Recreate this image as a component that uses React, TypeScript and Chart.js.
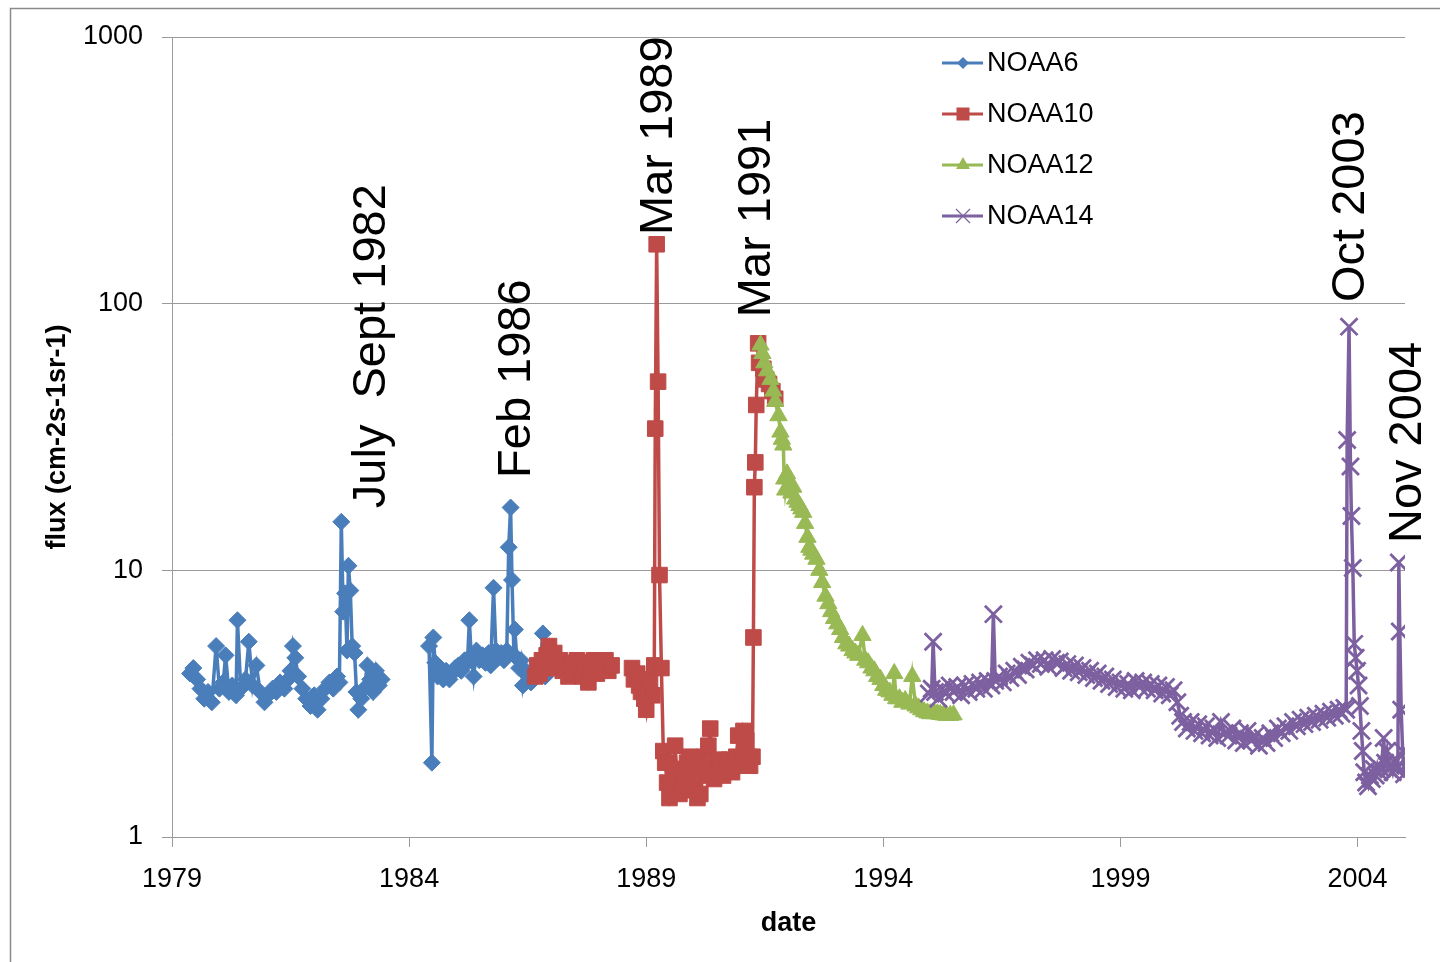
import React, { useEffect, useRef } from "react";
import { Chart, registerables } from "chart.js";

Chart.register(...registerables);

const FONT = "'Liberation Sans', Arial, Helvetica, sans-serif";
const GRID = "#9a9a9a";

// Axis ticks
const xTickYears = [1979, 1984, 1989, 1994, 1999, 2004];
const yTickValues = [1, 10, 100, 1000];

// Series names and colours
const seriesNames = ["NOAA6", "NOAA10", "NOAA12", "NOAA14"];
const seriesColors = ["#4A7EBB", "#BE4B48", "#98B954", "#7D60A0"];

// NOAA6 (null = data gap)
const noaa6Year = [
  1979.38, 1979.45, 1979.53, 1979.6, 1979.68, 1979.76, 1979.84, 1979.93,
  1980.0, 1980.08, 1980.13, 1980.2, 1980.27, 1980.35, 1980.38, 1980.45, 1980.55, 1980.62, 1980.7, 1980.78, 1980.86, 1980.95,
  1981.03, 1981.12, 1981.2, 1981.28, 1981.37, 1981.45, 1981.5, 1981.55, 1981.6, 1981.66, 1981.75, 1981.83, 1981.92,
  1982.0, 1982.07, 1982.15, 1982.23, 1982.32, 1982.4, 1982.48, 1982.53, 1982.57, 1982.61, 1982.65, 1982.69, 1982.72, 1982.76, 1982.8, 1982.85, 1982.89, 1982.93, 1982.99,
  1983.05, 1983.12, 1983.18, 1983.24, 1983.3, 1983.36, 1983.42,
  1984.0,
  1984.42, 1984.48, 1984.51, 1984.55, 1984.6, 1984.66, 1984.72, 1984.78, 1984.85, 1984.91, 1984.97,
  1985.04, 1985.1, 1985.17, 1985.23, 1985.27, 1985.31, 1985.36, 1985.42, 1985.48, 1985.55, 1985.61, 1985.68, 1985.72, 1985.78, 1985.83, 1985.88, 1985.94,
  1986.0, 1986.06, 1986.1, 1986.14, 1986.17, 1986.21, 1986.23, 1986.27, 1986.32, 1986.36, 1986.4, 1986.46, 1986.51, 1986.57, 1986.63, 1986.7, 1986.76, 1986.82, 1986.87,
];
const noaa6Flux = [
  4.1, 4.3, 3.9, 3.6, 3.3, 3.5, 3.2, 5.2,
  3.6, 3.8, 4.8, 3.5, 3.7, 3.4, 6.5, 3.6, 3.9, 5.4, 3.7, 4.4, 3.5, 3.2,
  3.4, 3.6, 3.5, 3.8, 3.6, 3.9, 4.2, 5.2, 4.7, 4.0, 3.6, 3.3, 3.1,
  3.4, 3.0, 3.3, 3.6, 3.8, 3.6, 4.0, 3.8, 15.2, 7.0, 8.2, 5.0, 10.4, 8.4, 5.2, 4.9, 3.5, 3.0, 3.3,
  3.6, 4.4, 3.9, 3.5, 4.2, 3.7, 3.9,
  null,
  5.2, 1.9, 5.6, 4.5, 4.0, 4.3, 3.9, 4.2, 3.9, 4.1, 4.3,
  4.4, 4.2, 4.6, 4.5, 6.5, 4.8, 4.0, 5.0, 4.6, 4.8, 4.5, 4.9, 4.4, 8.6, 5.0, 4.7, 4.9,
  4.6, 5.0, 12.2, 17.2, 9.2, 4.8, 6.0, 4.7, 4.3, 4.6, 3.7, 4.2, 4.0, 3.8, 3.9, 4.1, 4.4, 5.8, 4.0,
];

// NOAA10
const noaa10Year = [
  1986.66, 1986.7, 1986.75, 1986.8, 1986.85, 1986.9, 1986.95, 1987.0, 1987.06, 1987.12, 1987.18, 1987.24, 1987.3, 1987.36, 1987.42,
  1987.48, 1987.54, 1987.6, 1987.66, 1987.72, 1987.78, 1987.84, 1987.9, 1987.96, 1988.02, 1988.08, 1988.14, 1988.2, 1988.27,
  1988.5,
  1988.7, 1988.74, 1988.81, 1988.85, 1988.89, 1988.96, 1989.0, 1989.04, 1989.08, 1989.13, 1989.17, 1989.19, 1989.22, 1989.25, 1989.28, 1989.32, 1989.36,
  1989.4, 1989.44, 1989.49, 1989.53, 1989.57, 1989.61, 1989.65, 1989.7, 1989.74, 1989.78, 1989.82, 1989.86, 1989.91, 1989.95, 1989.99,
  1990.03, 1990.08, 1990.14, 1990.18, 1990.22, 1990.27, 1990.31, 1990.35, 1990.39, 1990.43, 1990.48, 1990.54, 1990.58, 1990.62, 1990.69, 1990.75, 1990.81, 1990.86, 1990.9, 1990.94,
  1991.0, 1991.05, 1991.11, 1991.15, 1991.19, 1991.24, 1991.26, 1991.28, 1991.3, 1991.32, 1991.36, 1991.38, 1991.47, 1991.53, 1991.59, 1991.66, 1991.72,
];
const noaa10Flux = [
  4.0, 4.4, 4.1, 4.6, 4.3, 4.8, 5.2, 4.5, 4.9, 4.3, 4.6, 4.2, 4.5, 4.0, 4.4,
  4.1, 4.6, 4.3, 4.0, 4.5, 3.8, 4.2, 4.6, 4.1, 4.5, 4.3, 4.6, 4.2, 4.4,
  null,
  4.3, 3.9, 4.1, 3.7, 3.5, 3.3, 3.0, 3.6, 3.9, 3.4, 4.4, 34, 167, 51, 9.6, 4.3, 2.1,
  1.9, 1.6, 1.4, 1.5, 1.8, 2.2, 1.7, 1.45, 1.5, 1.7, 1.55, 1.9, 2.0, 1.6, 1.8,
  1.5, 1.4, 1.45, 1.7, 2.0, 1.75, 2.2, 2.55, 1.9, 1.65, 1.75, 1.95, 1.8, 1.7, 1.85, 1.95, 1.75, 1.85, 2.0, 2.4,
  1.9, 2.5, 2.3, 2.0, 1.85, 2.0, 5.6, 20.5, 25.4, 41.7, 71, 60, 57, 52, 50, 47, 44,
];

// NOAA12
const noaa12Year = [
  1991.41, 1991.45, 1991.49, 1991.55, 1991.62, 1991.68, 1991.72, 1991.79, 1991.83, 1991.86, 1991.89, 1991.91, 1991.93, 1991.97,
  1992.02, 1992.06, 1992.1, 1992.14, 1992.19, 1992.23, 1992.27, 1992.31, 1992.35, 1992.4, 1992.44, 1992.48, 1992.52, 1992.59, 1992.65, 1992.71, 1992.78, 1992.84, 1992.9, 1992.96,
  1993.03, 1993.09, 1993.15, 1993.22, 1993.28, 1993.35, 1993.41, 1993.47, 1993.56, 1993.62, 1993.68, 1993.75, 1993.81, 1993.87, 1993.94,
  1994.0, 1994.06, 1994.13, 1994.19, 1994.23, 1994.27, 1994.34, 1994.4, 1994.46, 1994.55, 1994.61, 1994.68, 1994.74, 1994.8, 1994.86, 1994.93, 1994.99,
  1995.08, 1995.14, 1995.2, 1995.27, 1995.33, 1995.41, 1995.48,
];
const noaa12Flux = [
  70, 65, 60, 56, 52, 47, 43, 38, 33, 31, 29.5, 22, 20, 23,
  21, 19.5, 20.5, 18.5, 18.0, 17.5, 17.0, 16.5, 15, 13.3, 12.2, 11.9, 11.5, 11.0, 10.0, 9.0, 8.0, 7.5, 7.0, 6.6,
  6.3, 6.0, 5.6, 5.3, 5.2, 5.0, 4.9, 4.8, 5.7, 4.6, 4.5, 4.3, 4.2, 4.0, 3.9,
  3.7, 3.55, 3.5, 3.4, 4.1, 3.3, 3.3, 3.2, 3.25, 3.15, 4.0, 3.1, 3.05, 3.0, 2.95, 2.92, 2.9,
  2.9, 2.9, 2.88, 2.87, 2.86, 2.86, 2.87,
];

// NOAA14
const noaa14Year = [
  1994.96, 1995.02, 1995.05, 1995.09, 1995.16, 1995.24, 1995.32, 1995.4, 1995.48, 1995.56, 1995.64, 1995.72, 1995.8, 1995.88, 1995.96,
  1996.04, 1996.12, 1996.2, 1996.28, 1996.32, 1996.36, 1996.44, 1996.52, 1996.6, 1996.68, 1996.76, 1996.84, 1996.92,
  1997.0, 1997.08, 1997.16, 1997.24, 1997.32, 1997.4, 1997.48, 1997.56, 1997.64, 1997.72, 1997.8, 1997.88, 1997.96,
  1998.04, 1998.12, 1998.2, 1998.28, 1998.36, 1998.44, 1998.52, 1998.6, 1998.68, 1998.76, 1998.84, 1998.92,
  1999.0, 1999.08, 1999.16, 1999.24, 1999.32, 1999.4, 1999.48, 1999.56, 1999.64, 1999.72, 1999.8, 1999.88, 1999.96,
  2000.04, 2000.12, 2000.2, 2000.26, 2000.32, 2000.4, 2000.48, 2000.56, 2000.64, 2000.72, 2000.8, 2000.88, 2000.96,
  2001.04, 2001.12, 2001.2, 2001.28, 2001.36, 2001.44, 2001.52, 2001.6, 2001.68, 2001.76, 2001.84, 2001.92,
  2002.0, 2002.08, 2002.16, 2002.24, 2002.32, 2002.4, 2002.48, 2002.56, 2002.64, 2002.72, 2002.8, 2002.88, 2002.96,
  2003.04, 2003.12, 2003.2, 2003.28, 2003.36, 2003.44, 2003.52, 2003.6, 2003.66, 2003.72, 2003.76, 2003.78, 2003.82, 2003.85, 2003.87, 2003.9, 2003.93, 2003.96, 2003.99,
  2004.02, 2004.05, 2004.08, 2004.11, 2004.14, 2004.18, 2004.22, 2004.26, 2004.3, 2004.34, 2004.38, 2004.42, 2004.46, 2004.5, 2004.55, 2004.58,
  2004.62, 2004.66, 2004.7, 2004.74, 2004.78, 2004.82, 2004.85, 2004.87, 2004.89, 2004.92, 2004.95, 2004.98,
];
const noaa14Flux = [
  3.45, 3.6, 5.4, 3.5, 3.3, 3.6, 3.45, 3.7, 3.5, 3.65, 3.4, 3.7, 3.5, 3.75, 3.6,
  3.8, 3.6, 3.85, 3.7, 6.85, 3.85, 4.0, 3.8, 4.1, 3.95, 4.2, 4.05, 4.35,
  4.25, 4.5, 4.4, 4.6, 4.45, 4.6, 4.35, 4.65, 4.5, 4.55, 4.3, 4.45, 4.2,
  4.4, 4.15, 4.3, 4.05, 4.2, 3.95, 4.1, 3.85, 4.0, 3.75, 3.9, 3.65,
  3.8, 3.6, 3.75, 3.55, 3.85, 3.65, 3.8, 3.6, 3.75, 3.55, 3.7, 3.45, 3.65,
  3.4, 3.55, 3.2, 2.85, 2.7, 2.55, 2.7, 2.5, 2.65, 2.45, 2.6, 2.4, 2.55,
  2.35, 2.7, 2.45, 2.4, 2.55, 2.3, 2.45, 2.25, 2.5, 2.3, 2.4, 2.2,
  2.35, 2.25, 2.45, 2.35, 2.55, 2.45, 2.6, 2.5, 2.7, 2.6, 2.75, 2.65, 2.8,
  2.7, 2.85, 2.75, 2.9, 2.8, 2.95, 2.85, 3.0, 2.9, 3.05, 3.0, 30.8, 82, 24.5, 16, 10.2, 5.3, 4.7, 4.2,
  3.7, 3.1, 2.5, 2.1, 1.75, 1.6, 1.55, 1.7, 1.65, 1.8, 1.7, 1.85, 1.75, 1.8, 2.35, 1.9,
  2.1, 1.8, 1.85, 1.75, 1.9, 1.8, 1.85, 10.7, 5.9, 3.0, 2.1, 1.72,
];

// Event annotations (rotated labels), anchored at [year, flux] of the text start
const eventLabels = ["July  Sept 1982", "Feb 1986", "Mar 1989", "Mar 1991", "Oct 2003", "Nov 2004"];
const eventYears = [1983.49, 1986.55, 1989.55, 1991.62, 2004.13, 2005.33];
const eventFlux = [17.1, 22.2, 181, 89, 101.5, 12.66];

const pointStyles = ["rectRot", "rect", "triangle", "crossRot"];
const pointRadii = [8.5, 11, 10, 12];

function toPoints(xs: number[], ys: (number | null)[]) {
  return xs.map((x, i) => ({ x, y: ys[i] }));
}

const borderPlugin = {
  id: "outerBorder",
  beforeDraw(chart: any) {
    const ctx = chart.ctx;
    ctx.save();
    ctx.strokeStyle = "#8a8a8a";
    ctx.lineWidth = 1.5;
    ctx.beginPath();
    ctx.moveTo(10.5, chart.height);
    ctx.lineTo(10.5, 8.5);
    ctx.lineTo(chart.width, 8.5);
    ctx.stroke();
    ctx.restore();
  },
};

function drawMarker(ctx: CanvasRenderingContext2D, style: string, x: number, y: number, color: string) {
  ctx.fillStyle = color;
  ctx.strokeStyle = color;
  ctx.beginPath();
  if (style === "rectRot") {
    const r = 6;
    ctx.moveTo(x - r, y);
    ctx.lineTo(x, y - r);
    ctx.lineTo(x + r, y);
    ctx.lineTo(x, y + r);
    ctx.closePath();
    ctx.fill();
  } else if (style === "rect") {
    const s = 6.5;
    ctx.rect(x - s, y - s, 2 * s, 2 * s);
    ctx.fill();
  } else if (style === "triangle") {
    const r = 8;
    ctx.moveTo(x, y - r);
    ctx.lineTo(x + 0.866 * r, y + 0.5 * r);
    ctx.lineTo(x - 0.866 * r, y + 0.5 * r);
    ctx.closePath();
    ctx.fill();
  } else {
    const r = 7;
    ctx.lineWidth = 1.2;
    ctx.moveTo(x - r, y - r);
    ctx.lineTo(x + r, y + r);
    ctx.moveTo(x - r, y + r);
    ctx.lineTo(x + r, y - r);
    ctx.stroke();
  }
}

const legendPlugin = {
  id: "customLegend",
  afterDraw(chart: any) {
    const ctx = chart.ctx as CanvasRenderingContext2D;
    const { left, top } = chart.chartArea;
    const x0 = left + 770;
    const y0 = top + 26;
    const rowH = 51;
    ctx.save();
    seriesNames.forEach((name, i) => {
      const y = y0 + i * rowH;
      ctx.strokeStyle = seriesColors[i];
      ctx.lineWidth = 3;
      ctx.beginPath();
      ctx.moveTo(x0, y);
      ctx.lineTo(x0 + 41, y);
      ctx.stroke();
      drawMarker(ctx, pointStyles[i], x0 + 21, y, seriesColors[i]);
      ctx.fillStyle = "#000";
      ctx.font = `27px ${FONT}`;
      ctx.textAlign = "left";
      ctx.textBaseline = "middle";
      ctx.fillText(name, x0 + 45, y + 1);
    });
    ctx.restore();
  },
};

const eventPlugin = {
  id: "eventLabels",
  afterDraw(chart: any) {
    const ctx = chart.ctx as CanvasRenderingContext2D;
    const xs = chart.scales.x;
    const ys = chart.scales.y;
    ctx.save();
    ctx.fillStyle = "#000";
    ctx.font = `47px ${FONT}`;
    ctx.textAlign = "left";
    ctx.textBaseline = "alphabetic";
    eventLabels.forEach((label, i) => {
      const px = xs.getPixelForValue(eventYears[i]);
      const py = ys.getPixelForValue(eventFlux[i]);
      ctx.save();
      ctx.translate(px, py);
      ctx.rotate(-Math.PI / 2);
      ctx.fillText(label, 0, 0);
      ctx.restore();
    });
    ctx.restore();
  },
};

export default function App() {
  const ref = useRef<HTMLCanvasElement>(null);

  useEffect(() => {
    if (!ref.current) return;
    const seriesData = [
      toPoints(noaa6Year, noaa6Flux),
      toPoints(noaa10Year, noaa10Flux),
      toPoints(noaa12Year, noaa12Flux),
      toPoints(noaa14Year, noaa14Flux),
    ];
    const datasets = seriesNames.map((name, i) => ({
      label: name,
      data: seriesData[i],
      showLine: true,
      spanGaps: false,
      borderColor: seriesColors[i],
      backgroundColor: seriesColors[i],
      borderWidth: 3.5,
      pointStyle: pointStyles[i],
      pointRadius: pointRadii[i],
      pointBackgroundColor: seriesColors[i],
      pointBorderColor: seriesColors[i],
      pointBorderWidth: i === 3 ? 2.8 : 1,
      order: 4 - i,
      tension: 0,
    }));

    const chart = new Chart(ref.current, {
      type: "scatter",
      data: { datasets } as any,
      options: {
        responsive: false,
        animation: false,
        events: [],
        layout: { padding: { left: 0, top: 37, right: 35, bottom: 0 } },
        plugins: {
          legend: { display: false },
          tooltip: { enabled: false },
        },
        scales: {
          x: {
            type: "linear",
            min: 1979,
            max: 2005,
            afterBuildTicks: (s: any) => {
              s.ticks = xTickYears.map((v) => ({ value: v }));
            },
            afterFit: (s: any) => {
              s.height = 125;
            },
            grid: { drawOnChartArea: false, drawTicks: true, tickLength: 10, color: GRID, lineWidth: 1 },
            border: { display: true, color: GRID, width: 1 },
            ticks: {
              color: "#000",
              font: { family: FONT, size: 27 },
              padding: 16,
              maxRotation: 0,
              autoSkip: false,
              callback: (v: any) => String(v),
            },
            title: {
              display: true,
              text: "date",
              color: "#000",
              font: { family: FONT, size: 27, weight: "bold" },
              padding: { top: 0, bottom: 22 },
            },
          },
          y: {
            type: "logarithmic",
            min: 1,
            max: 1000,
            afterBuildTicks: (s: any) => {
              s.ticks = yTickValues.map((v) => ({ value: v }));
            },
            afterFit: (s: any) => {
              s.width = 172;
            },
            grid: { drawTicks: true, tickLength: 10, color: GRID, lineWidth: 1 },
            border: { display: true, color: GRID, width: 1 },
            ticks: {
              color: "#000",
              font: { family: FONT, size: 27 },
              padding: 19,
              autoSkip: false,
              callback: (v: any) => String(v),
            },
            title: {
              display: true,
              text: "flux (cm-2s-1sr-1)",
              color: "#000",
              font: { family: FONT, size: 27, weight: "bold" },
              padding: { top: 41, bottom: 0 },
            },
          },
        },
      } as any,
      plugins: [borderPlugin, eventPlugin, legendPlugin],
    });
    return () => chart.destroy();
  }, []);

  return (
    <div style={{ position: "fixed", left: 0, top: 0, width: 1440, height: 962, background: "#fff", overflow: "hidden" }}>
      <canvas ref={ref} width={1440} height={962} style={{ display: "block", width: 1440, height: 962 }} />
    </div>
  );
}
